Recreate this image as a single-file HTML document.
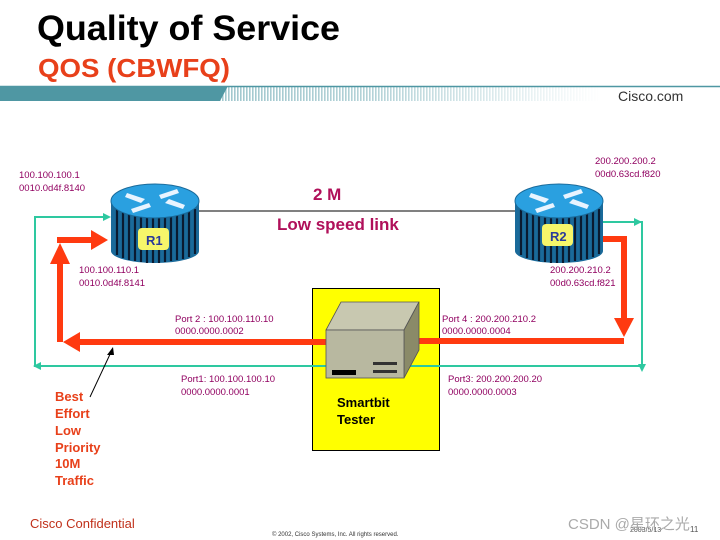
<!DOCTYPE html>
<html><head><meta charset="utf-8"><style>
html,body{margin:0;padding:0;background:#fff}
svg{display:block}
text{font-family:"Liberation Sans",sans-serif}
</style></head><body>
<svg width="720" height="540" viewBox="0 0 720 540" xmlns="http://www.w3.org/2000/svg">
<defs>
<linearGradient id="fade" x1="0" x2="1" y1="0" y2="0">
<stop offset="0" stop-color="#4f97a3"/><stop offset="0.4" stop-color="#4f97a3" stop-opacity="0.8"/><stop offset="1" stop-color="#4f97a3" stop-opacity="0"/>
</linearGradient>
<pattern id="stripes" width="3" height="14" patternUnits="userSpaceOnUse">
<rect width="1.6" height="14" fill="#4f97a3"/>
</pattern>
<mask id="m"><rect x="220" y="86" width="380" height="15" fill="url(#fade)"/></mask>
<g id="router">
<path d="M-44,0 L-44,50 A44,12 0 0 0 44,50 L44,0 Z" fill="#1a6a9a"/>
<g stroke="#0a1a30" stroke-width="2.2">
<line x1="-38" y1="8" x2="-38" y2="54"/><line x1="-32" y1="8" x2="-32" y2="57"/><line x1="-26" y1="8" x2="-26" y2="59"/><line x1="-20" y1="8" x2="-20" y2="60"/><line x1="-14" y1="8" x2="-14" y2="61"/><line x1="-8" y1="8" x2="-8" y2="62"/><line x1="-2" y1="8" x2="-2" y2="62"/><line x1="4" y1="8" x2="4" y2="62"/><line x1="10" y1="8" x2="10" y2="61"/><line x1="16" y1="8" x2="16" y2="60"/><line x1="22" y1="8" x2="22" y2="59"/><line x1="28" y1="8" x2="28" y2="58"/><line x1="34" y1="8" x2="34" y2="56"/><line x1="40" y1="8" x2="40" y2="53"/>
</g>
<ellipse cx="0" cy="0" rx="44" ry="17" fill="#2aa0e0" stroke="#1a6a9a" stroke-width="1"/>
<g fill="#e8f4ff">
<path d="M-28,-8 L-10,-2 L-14,2 L-30,-4Z"/><path d="M28,8 L10,2 L14,-2 L30,4Z"/>
<path d="M-24,8 L-6,2 L-4,6 L-22,12Z"/><path d="M24,-8 L6,-2 L4,-6 L22,-12Z"/>
</g>
</g>
</defs>
<text x="37" y="40" font-size="35" font-weight="bold" fill="#000" textLength="303" lengthAdjust="spacingAndGlyphs">Quality of Service</text>
<text x="38" y="77" font-size="26" font-weight="bold" fill="#e8401a" textLength="192" lengthAdjust="spacingAndGlyphs">QOS (CBWFQ)</text>
<line x1="0" y1="86.5" x2="720" y2="86.5" stroke="#4f97a3" stroke-width="1.5"/>
<path d="M0,86 L228,86 L220,101 L0,101Z" fill="#4f97a3"/>
<rect x="220" y="86" width="380" height="15" fill="url(#stripes)" mask="url(#m)"/>
<text x="618" y="101" font-size="14" fill="#333">Cisco.com</text>

<rect x="312.5" y="288.5" width="127" height="162" fill="#ffff00" stroke="#000" stroke-width="1"/>

<line x1="198" y1="211" x2="515" y2="211" stroke="#000" stroke-width="1"/>
<text x="313" y="200" font-size="17" font-weight="bold" fill="#b0105a">2 M</text>
<text x="277" y="230" font-size="17" font-weight="bold" fill="#b0105a">Low speed link</text>

<g stroke="#2ec8a0" stroke-width="2" fill="none">
<polyline points="105,217 35,217 35,366 418,366"/>
<polyline points="603,222 642,222 642,366 418,366"/>
</g>
<g fill="#2ec8a0">
<path d="M111,217 L103,213 L103,221Z"/><path d="M33,366 L41,362 L41,370Z"/>
<path d="M642,222 L634,218 L634,226Z"/>
<path d="M642,372 L638,364 L646,364Z"/>
</g>

<g stroke="#ff3a10" stroke-width="6" fill="none">
<polyline points="418,342 75,342"/>
<polyline points="60,342 60,255"/>
<polyline points="57,240 94,240"/>
<polyline points="595,239 624,239 624,322"/>
<polyline points="624,341 418,341"/>
</g>
<g fill="#ff3a10">
<path d="M63,342 L80,332 L80,352Z"/>
<path d="M60,243 L50,264 L70,264Z"/>
<path d="M108,240 L91,230 L91,250Z"/>
<path d="M624,337 L614,318 L634,318Z"/>
</g>

<use href="#router" x="155" y="201"/>
<use href="#router" x="559" y="201"/>
<rect x="138" y="228" width="31" height="22" rx="4" fill="#f6f66a"/>
<text x="146" y="245" font-size="13" font-weight="bold" fill="#2a3a9a">R1</text>
<rect x="542" y="224" width="31" height="22" rx="4" fill="#f6f66a"/>
<text x="550" y="241" font-size="13" font-weight="bold" fill="#2a3a9a">R2</text>

<path d="M326,330 L341,302 L419,302 L404,330Z" fill="#c8c8b0" stroke="#555" stroke-width="0.8"/>
<path d="M404,330 L419,302 L419,350 L404,378Z" fill="#8a8a68" stroke="#555" stroke-width="0.8"/>
<rect x="326" y="330" width="78" height="48" fill="#b8b8a0" stroke="#555" stroke-width="0.8"/>
<rect x="332" y="370" width="24" height="5" fill="#000"/>
<rect x="373" y="362" width="24" height="3" fill="#333"/><rect x="373" y="370" width="24" height="3" fill="#333"/>
<text x="337" y="407" font-size="13" font-weight="bold" fill="#000">Smartbit</text>
<text x="337" y="424" font-size="13" font-weight="bold" fill="#000">Tester</text>

<g font-size="9.5" fill="#900060">
<text x="19" y="178">100.100.100.1</text><text x="19" y="191">0010.0d4f.8140</text>
<text x="79" y="273">100.100.110.1</text><text x="79" y="286">0010.0d4f.8141</text>
<text x="595" y="164">200.200.200.2</text><text x="595" y="177">00d0.63cd.f820</text>
<text x="550" y="273">200.200.210.2</text><text x="550" y="286">00d0.63cd.f821</text>
<text x="175" y="322">Port 2 : 100.100.110.10</text><text x="175" y="334">0000.0000.0002</text>
<text x="442" y="322">Port 4 : 200.200.210.2</text><text x="442" y="334">0000.0000.0004</text>
<text x="181" y="382">Port1: 100.100.100.10</text><text x="181" y="395">0000.0000.0001</text>
<text x="448" y="382">Port3: 200.200.200.20</text><text x="448" y="395">0000.0000.0003</text>
</g>

<line x1="112" y1="350" x2="90" y2="397" stroke="#000" stroke-width="1"/>
<path d="M113,347 L107,355 L114,355Z" fill="#000"/>
<g font-size="13" font-weight="bold" fill="#e8401a">
<text x="55" y="401">Best</text><text x="55" y="418">Effort</text><text x="55" y="435">Low</text>
<text x="55" y="452">Priority</text><text x="55" y="468">10M</text><text x="55" y="485">Traffic</text>
</g>
<text x="30" y="528" font-size="13" fill="#c0301a">Cisco Confidential</text>
<text x="272" y="536" font-size="6" fill="#333">© 2002, Cisco Systems, Inc. All rights reserved.</text>
<text x="630" y="532" font-size="7" fill="#555">2003/5/13</text>
<text x="690" y="532" font-size="8" fill="#555">11</text>
<text x="568" y="529" font-size="15" fill="#aaa" font-family="Liberation Sans, Noto Sans CJK SC, sans-serif">CSDN @星环之光</text>
</svg>
</body></html>
